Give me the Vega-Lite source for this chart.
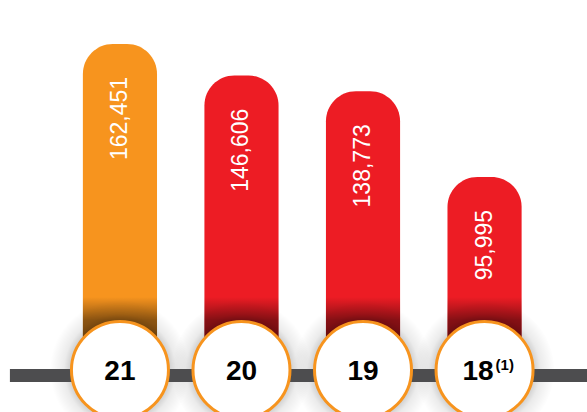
{
  "$schema": "https://vega.github.io/schema/vega-lite/v6.json",
  "width": 587,
  "height": 412,
  "autosize": "none",
  "padding": 0,
  "background": "white",
  "view": {"stroke": null},
  "config": {"font": "Liberation Sans"},
  "data": {
    "values": [
      {"year": "21", "value": 162451, "kind": "current", "label": "21", "sup": ""},
      {"year": "20", "value": 146606, "kind": "prior", "label": "20", "sup": ""},
      {"year": "19", "value": 138773, "kind": "prior", "label": "19", "sup": ""},
      {"year": "18", "value": 95995, "kind": "prior", "label": "18", "sup": "(1)"}
    ]
  },
  "layer": [
    {
      "encoding": {
        "x": {
          "field": "year",
          "type": "nominal",
          "sort": null,
          "axis": null,
          "scale": {"paddingInner": 0.39, "paddingOuter": 0.61, "align": 0.559}
        }
      },
      "layer": [
        {
          "mark": {"type": "bar", "cornerRadiusTopLeft": 30, "cornerRadiusTopRight": 30},
          "encoding": {
            "y": {
              "field": "value",
              "type": "quantitative",
              "axis": null,
              "scale": {"domain": [-21487, 184389], "nice": false, "zero": false}
            },
            "y2": {"datum": 0},
            "color": {
              "field": "kind",
              "type": "nominal",
              "legend": null,
              "scale": {"domain": ["current", "prior"], "range": ["#F7941E", "#ED1C24"]}
            }
          }
        },
        {
          "mark": {
            "type": "bar",
            "fill": {
              "gradient": "linear",
              "x1": 0, "y1": 0, "x2": 0, "y2": 1,
              "stops": [
                {"offset": 0, "color": "rgba(0,0,0,0)"},
                {"offset": 0.32, "color": "rgba(0,0,0,0.4)"},
                {"offset": 1, "color": "rgba(0,0,0,0.6)"}
              ]
            }
          },
          "encoding": {
            "y": {"datum": 36000},
            "y2": {"datum": 0}
          }
        },
        {
          "mark": {
            "type": "point",
            "shape": "circle",
            "filled": true,
            "size": 19600,
            "opacity": 1,
            "fill": {
              "gradient": "radial",
              "x1": 0.5, "y1": 0.5, "r1": 0,
              "x2": 0.5, "y2": 0.5, "r2": 0.5,
              "stops": [
                {"offset": 0.6, "color": "rgba(0,0,0,0.3)"},
                {"offset": 0.8, "color": "rgba(0,0,0,0.08)"},
                {"offset": 1, "color": "rgba(0,0,0,0)"}
              ]
            }
          },
          "encoding": {"y": {"datum": -500}}
        }
      ]
    },
    {
      "mark": {"type": "rule", "color": "#4D4D4F", "strokeWidth": 13},
      "encoding": {
        "x": {"datum": 0.017, "type": "quantitative", "scale": {"domain": [0, 1], "nice": false}, "axis": null},
        "x2": {"datum": 1},
        "y": {"datum": -3248}
      }
    },
    {
      "encoding": {
        "x": {
          "field": "year",
          "type": "nominal",
          "sort": null,
          "axis": null,
          "scale": {"paddingInner": 0.39, "paddingOuter": 0.61, "align": 0.559}
        }
      },
      "layer": [
        {
          "mark": {"type": "bar", "opacity": 0},
          "encoding": {"y": {"datum": 0}, "y2": {"datum": 0}}
        },
        {
          "mark": {
            "type": "point",
            "shape": "circle",
            "filled": false,
            "size": 9409,
            "fill": "white",
            "fillOpacity": 1,
            "opacity": 1,
            "stroke": "#F7941E",
            "strokeWidth": 3
          },
          "encoding": {"y": {"datum": -500}}
        },
        {
          "mark": {
            "type": "text",
            "angle": 270,
            "align": "right",
            "baseline": "middle",
            "dx": -33,
            "fontSize": 23,
            "color": "white"
          },
          "encoding": {
            "y": {"field": "value", "type": "quantitative"},
            "text": {"field": "value", "type": "quantitative", "format": ","}
          }
        },
        {
          "mark": {
            "type": "text",
            "align": "center",
            "baseline": "middle",
            "dy": 2,
            "fontSize": 28,
            "fontWeight": "bold",
            "color": "black"
          },
          "encoding": {
            "y": {"datum": -500},
            "text": {"condition": {"test": "datum.sup == ''", "field": "label"}, "value": ""}
          }
        },
        {
          "mark": {
            "type": "text",
            "align": "right",
            "baseline": "middle",
            "dx": 9,
            "dy": 2,
            "fontSize": 28,
            "fontWeight": "bold",
            "color": "black"
          },
          "encoding": {
            "y": {"datum": -500},
            "text": {"condition": {"test": "datum.sup != ''", "field": "label"}, "value": ""}
          }
        },
        {
          "mark": {
            "type": "text",
            "align": "left",
            "baseline": "middle",
            "dx": 11,
            "dy": -5,
            "fontSize": 15,
            "fontWeight": "bold",
            "color": "black"
          },
          "encoding": {
            "y": {"datum": -500},
            "text": {"field": "sup"}
          }
        }
      ]
    }
  ],
  "resolve": {"scale": {"x": "independent"}}
}
